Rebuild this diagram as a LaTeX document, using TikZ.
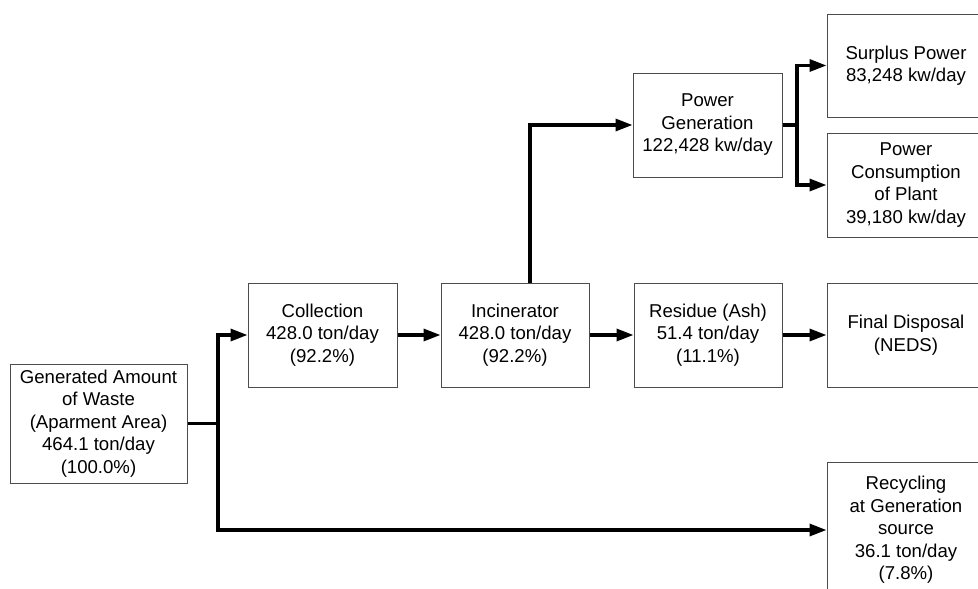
\documentclass[tikz,border=0pt]{standalone}
\usepackage{fontspec}
\setmainfont{Liberation Sans}
\usetikzlibrary{arrows.meta}
\begin{document}
\begin{tikzpicture}[x=1pt,y=-1pt,
  box/.style={draw=black!70, line width=1pt, fill=white, inner sep=0pt,
    align=center, text=black, font=\fontsize{18.6}{22.5}\selectfont},
  flow/.style={line width=3.3pt, line join=miter},
  arrow/.style={flow, -{Triangle[length=17pt,width=12pt]}}]
\useasboundingbox (0,0) rectangle (978,589);
\clip (0,0) rectangle (978,589);

% process boxes
\node[box, minimum width=177pt, minimum height=119pt] (gen) at (98.5,423.5)
  {Generated Amount\\of Waste\\(Aparment Area)\\464.1 ton/day\\(100.0\%)};
\node[box, minimum width=149pt, minimum height=104pt] (col) at (322.5,335)
  {Collection\\428.0 ton/day\\(92.2\%)};
\node[box, minimum width=148pt, minimum height=104pt] (inc) at (515,335)
  {Incinerator\\428.0 ton/day\\(92.2\%)};
\node[box, minimum width=148pt, minimum height=104pt] (res) at (708,335)
  {Residue (Ash)\\51.4 ton/day\\(11.1\%)};
\node[box, minimum width=158pt, minimum height=104pt] (fin) at (906,335)
  {Final Disposal\\(NEDS)};
\node[box, minimum width=149pt, minimum height=104pt] (pg) at (707.5,125)
  {Power\\Generation\\122,428 kw/day};
\node[box, minimum width=158pt, minimum height=103pt] (sur) at (906,65.5)
  {Surplus Power\\83,248 kw/day};
\node[box, minimum width=158pt, minimum height=104pt] (con) at (906,185)
  {Power\\Consumption\\of Plant\\39,180 kw/day};
\node[box, minimum width=158pt, minimum height=136pt] (rec) at (906,530)
  {Recycling\\at Generation\\source\\36.1 ton/day\\(7.8\%)};

% junction points
\coordinate (bus) at (218,423.5);
\coordinate (tap) at (530,283);
\coordinate (split) at (797,125);

% connectors
\draw[flow] (gen.east) -- (bus);
\draw[arrow] (bus) |- (col.west);
\draw[arrow] (bus) |- (rec.west);
\draw[arrow] (col.east) -- (inc.west);
\draw[arrow] (inc.east) -- (res.west);
\draw[arrow] (res.east) -- (fin.west);
\draw[arrow] (tap) |- (pg.west);
\draw[flow] (pg.east) -- (split);
\draw[arrow] (split) |- (sur.west);
\draw[arrow] (split) |- (con.west);
\end{tikzpicture}
\end{document}
